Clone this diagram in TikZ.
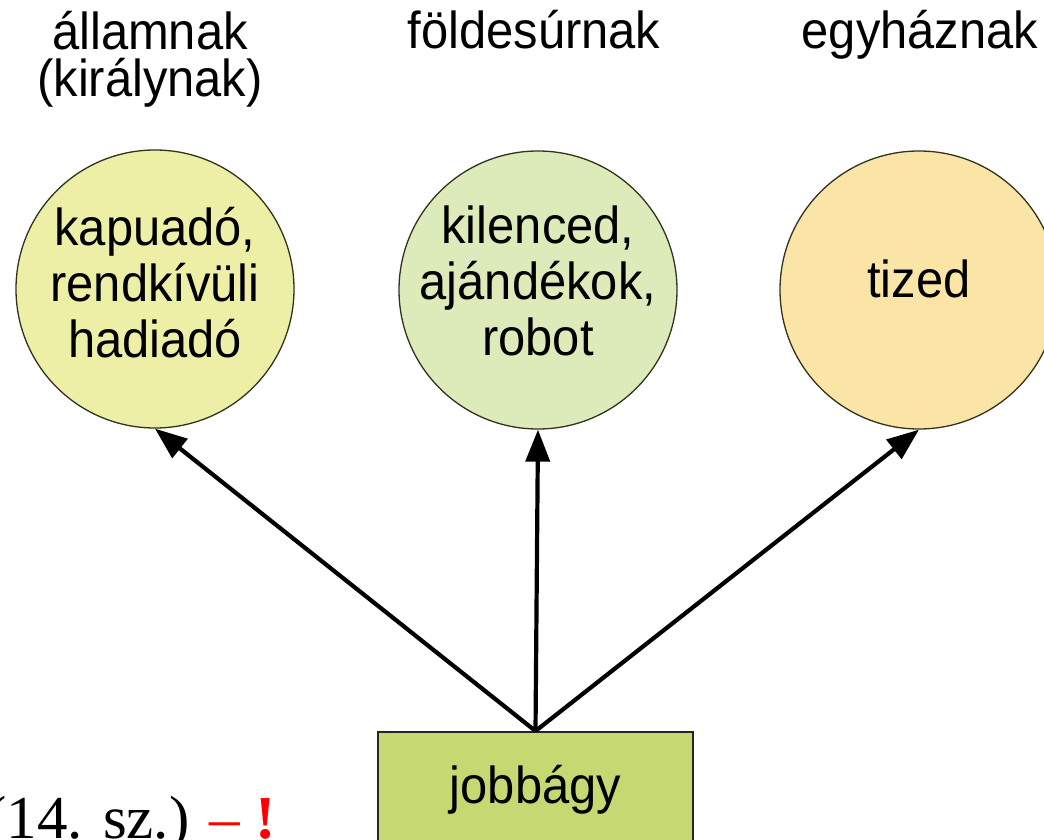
\documentclass[tikz,border=0pt]{standalone}
\usepackage{fontspec}
\setmainfont{Liberation Sans}[FakeStretch=0.94]
\newfontfamily\timesf{Liberation Serif}
\usetikzlibrary{arrows.meta}
\definecolor{cA}{RGB}{237,239,166}
\definecolor{cB}{RGB}{221,234,186}
\definecolor{cC}{RGB}{250,229,166}
\definecolor{cBox}{RGB}{196,217,114}
\definecolor{edgecol}{RGB}{50,50,30}
\begin{document}
\begin{tikzpicture}[x=1pt,y=-1pt,
  circ/.style={circle, draw=edgecol, line width=1.3pt, minimum size=278pt, inner sep=0pt},
  txt/.style={font=\fontsize{52}{56}\selectfont, align=center, inner sep=0pt, anchor=base},
  head/.style={font=\fontsize{52}{47}\selectfont, align=center, inner sep=0pt, anchor=base},
  arr/.style={line width=4.2pt, -{Triangle[length=32pt,width=24pt]}},
  boxst/.style={draw=black!85, line width=2pt, fill=cBox, minimum width=315pt, minimum height=130pt, inner sep=0pt,
    font=\fontsize{52}{56}\selectfont, text height=45pt, text depth=33pt},
]
\useasboundingbox (0,0) rectangle (1044,840);
\clip (0,0) rectangle (1044,840);
\fill[white] (0,0) rectangle (1044,840);

% headings (base anchor = baseline of the last line)
\node[head] (h1) at (150,97) {államnak\\(királynak)};
\node[head] (h2) at (534,49) {földesúrnak};
\node[head] (h3) at (920,49) {egyháznak};

% circles
\node[circ, fill=cA] (c1) at (155,289) {};
\node[circ, fill=cB] (c2) at (538,290) {};
\node[circ, fill=cC] (c3) at (919,290) {};
\node[txt] (t1) at (155,357) {kapuadó,\\rendkívüli\\hadiadó};
\node[txt] (t2) at (538,355) {kilenced,\\ajándékok,\\robot};
\node[txt] (t3) at (919,297) {tized};

% box
\node[boxst] (jb) at (535.5,797) {jobbágy};

% arrows
\draw[arr] (jb.north) -- (c1.south);
\draw[arr] (jb.north) -- (c2.south);
\draw[arr] (jb.north) -- (c3.south);

% bottom-left note
\node[anchor=base west, inner sep=0pt, font=\timesf\fontsize{61}{61}\selectfont] (note) at (-14,838)
  {(14. sz.) \textcolor{red}{– \textbf{!}}};
\end{tikzpicture}
\end{document}
